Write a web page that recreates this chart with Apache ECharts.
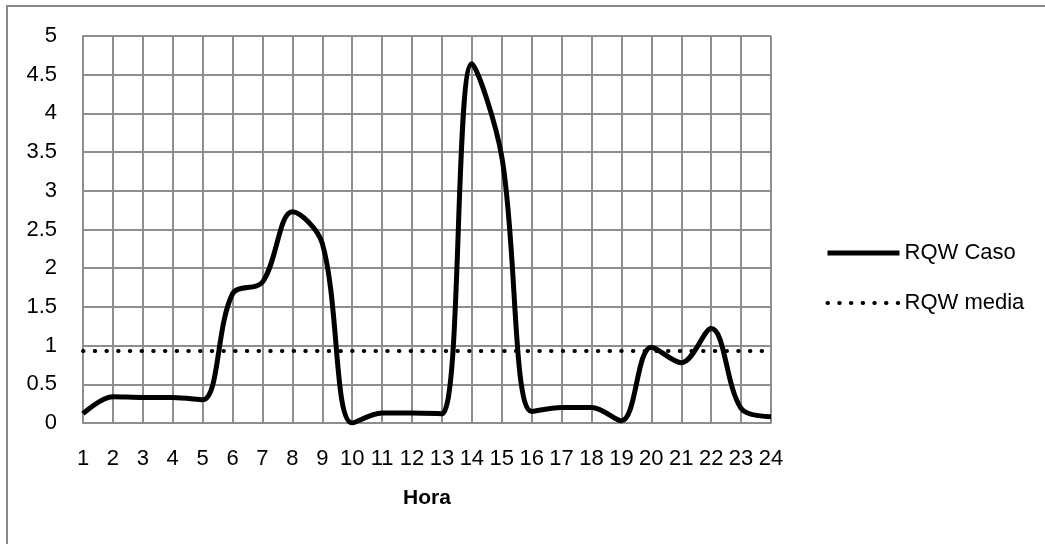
<!DOCTYPE html>
<html>
<head>
<meta charset="utf-8">
<script src="https://cdn.jsdelivr.net/npm/echarts@6/dist/echarts.min.js"></script>
<style>
html,body{margin:0;padding:0;background:#fff;}
#chart{width:1045px;height:544px;}
</style>
</head>
<body>
<div id="chart"></div>
<script>
const hours = ['1','2','3','4','5','6','7','8','9','10','11','12','13','14','15','16','17','18','19','20','21','22','23','24'];
const rqwCaso = [0.12,0.34,0.33,0.33,0.3,1.67,1.82,2.73,2.32,0.0,0.13,0.13,0.12,4.64,3.44,0.15,0.2,0.2,0.03,0.98,0.78,1.22,0.19,0.08];
const rqwMedia = [0.93,0.93,0.93,0.93,0.93,0.93,0.93,0.93,0.93,0.93,0.93,0.93,0.93,0.93,0.93,0.93,0.93,0.93,0.93,0.93,0.93,0.93,0.93,0.93];
const yTicks = {min:0, max:5, interval:0.5};
const seriesNames = ['RQW Caso','RQW media'];
const xTitle = 'Hora';

const FONT = '"Liberation Sans", Arial, sans-serif';
const dotStyle = {color:'#000',width:4,type:[0.5,11.2],cap:'round'};
const solidStyle = {color:'#000',width:5};
const chart = echarts.init(document.getElementById('chart'), null, {renderer:'canvas'});
chart.setOption({
  animation:false,
  backgroundColor:'#fff',
  textStyle:{fontFamily:FONT},
  graphic:[{
    type:'rect', silent:true, z:-1,
    shape:{x:7,y:6,width:1200,height:700},
    style:{fill:'none',stroke:'#888',lineWidth:2}
  }],
  grid:{left:83,right:274,top:36,bottom:121,containLabel:false},
  legend:{
    orient:'vertical', left:820, top:237,
    itemWidth:72, itemHeight:20, itemGap:28,
    itemStyle:{color:'rgba(0,0,0,0)',borderWidth:0,opacity:0},
    textStyle:{fontFamily:FONT,fontSize:22,color:'#000'},
    data:[
      {name:seriesNames[0], lineStyle:solidStyle},
      {name:seriesNames[1], lineStyle:dotStyle}
    ]
  },
  xAxis:{
    type:'category', data:hours, boundaryGap:false,
    axisLine:{show:true,lineStyle:{color:'#8e8e8e',width:2}},
    axisTick:{show:false},
    axisLabel:{interval:0,margin:25,color:'#000',fontSize:22,fontFamily:FONT},
    splitLine:{show:true,interval:0,lineStyle:{color:'#8e8e8e',width:2}},
    name:xTitle, nameLocation:'middle', nameGap:65,
    nameTextStyle:{fontWeight:'bold',fontSize:21,color:'#000',fontFamily:FONT}
  },
  yAxis:{
    type:'value', min:yTicks.min, max:yTicks.max, interval:yTicks.interval,
    axisLine:{show:true,lineStyle:{color:'#8e8e8e',width:2}},
    axisTick:{show:false},
    axisLabel:{margin:26,color:'#000',fontSize:22,fontFamily:FONT},
    splitLine:{show:true,lineStyle:{color:'#8e8e8e',width:2}}
  },
  series:[
    {
      name:seriesNames[0], type:'line', data:rqwCaso, smooth:0.35, symbol:'none',
      lineStyle:solidStyle, itemStyle:{color:'#000'}, z:3
    },
    {
      name:seriesNames[1], type:'line', data:rqwMedia, symbol:'none',
      lineStyle:dotStyle, itemStyle:{color:'#000'}, z:2
    }
  ]
});
</script>
</body>
</html>
